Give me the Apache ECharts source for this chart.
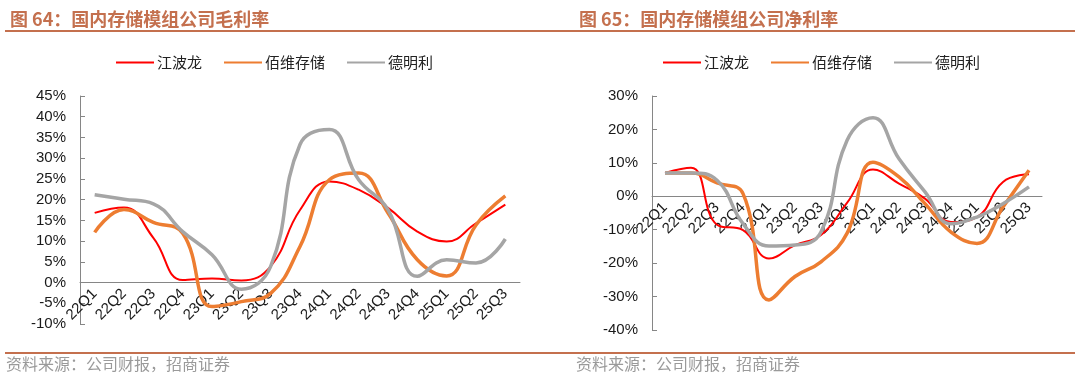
<!DOCTYPE html>
<html>
<head>
<meta charset="utf-8">
<title>国内存储模组公司毛利率 / 净利率</title>
<script src="https://cdn.jsdelivr.net/npm/echarts@6/dist/echarts.min.js"></script>
<style>
    html, body { margin: 0; padding: 0; background: #fff; }
    #main { width: 1080px; height: 376px; }
</style>
</head>
<body>
<div id="main"></div>
<script>
// 季度
var quarters = ['22Q1','22Q2','22Q3','22Q4','23Q1','23Q2','23Q3','23Q4',
                '24Q1','24Q2','24Q3','24Q4','25Q1','25Q2','25Q3'];
var names = ['江波龙', '佰维存储', '德明利'];

// 图64 毛利率 (%)
var gross_jbl = [16.8, 18.1, 10.8, 0.6, 1.0, 0.5, 3.9, 17.5, 24.4, 22.4, 18.0, 12.3, 9.9, 14.3, 18.8];
var gross_bw  = [12.1, 17.6, 14.5, 11.9, -5.8, -4.6, -2.6, 8.7, 24.8, 26.4, 16.8, 5.5, 1.6, 13.9, 20.9];
var gross_dml = [21.2, 20.1, 19.0, 12.3, 6.7, -1.6, 3.9, 33.3, 36.9, 24.8, 17.6, 1.5, 5.5, 4.7, 10.5];

// 图65 净利率 (%)
var net_jbl = [7.0, 8.5, -8.5, -10.1, -18.6, -14.6, -11.6, -2.0, 8.0, 3.8, -0.7, -7.7, -6.2, 4.3, 6.6];
var net_bw  = [7.0, 7.0, 4.0, 0.8, -31.0, -24.0, -19.6, -11.1, 10.2, 5.8, -2.2, -10.7, -14.1, -3.2, 7.8];
var net_dml = [7.0, 7.0, 4.8, -8.2, -14.9, -14.6, -10.7, 16.7, 23.5, 11.2, 1.3, -8.2, -6.2, -2.2, 2.8];

var colors = ['#ff0000', '#ed7d31', '#a5a5a5'];
var widths = [2, 3.5, 3.5];
var brown = '#c4704e';

function makeSeries(idx, datas){
    var list = [];
    for (var i = 0; i < datas.length; i++) {
        list.push({
            name: names[i],
            type: 'line',
            xAxisIndex: idx,
            yAxisIndex: idx,
            smooth: 0.45,
            symbol: 'none',
            lineStyle: { color: colors[i], width: widths[i] },
            itemStyle: { color: colors[i] },
            data: datas[i]
        });
    }
    return list;
}

// 0轴位置：offset 为负数，把整条 x 轴（线、刻度、标签）上移到 0%
function makeXAxis(idx, offset){
    return {
        type: 'category',
        gridIndex: idx,
        data: quarters,
        boundaryGap: true,
        offset: offset,
        axisLine: { onZero: false, lineStyle: { color: '#868686', width: 1 } },
        axisTick: { inside: true, length: 5, lineStyle: { color: '#868686' } },
        axisLabel: {
            rotate: 45,
            interval: 0,
            margin: 9,
            fontSize: 15,
            fontFamily: 'Liberation Sans',
            color: '#1a1a1a'
        }
    };
}

function makeYAxis(idx, min, max, step){
    return {
        type: 'value',
        gridIndex: idx,
        min: min,
        max: max,
        interval: step,
        splitLine: { show: false },
        axisLine: { show: true, lineStyle: { color: '#868686', width: 1 } },
        axisTick: { show: true, inside: true, length: 5, lineStyle: { color: '#868686' } },
        axisLabel: {
            formatter: '{value}%',
            margin: 14,
            fontSize: 15,
            fontFamily: 'Liberation Sans',
            color: '#1a1a1a'
        }
    };
}

function makeLegend(left){
    return {
        left: left,
        top: 50,
        itemWidth: 38,
        itemHeight: 14,
        itemGap: 21,
        itemStyle: { opacity: 0 },
        data: names,
        textStyle: { fontSize: 15, color: '#222', fontFamily: 'Noto Sans CJK SC', padding: [0, 0, 0, -2] }
    };
}

function initEchart(){
    var myChart = echarts.init(document.getElementById('main'));
    var titleStyle = { fontSize: 18, fontWeight: 'bold', color: brown, fontFamily: 'Noto Sans CJK SC' };
    var option = {
        animation: false,
        backgroundColor: '#fff',
        title: [
            { text: '图 64：国内存储模组公司毛利率', left: 5, top: 5, textStyle: titleStyle },
            { text: '图 65：国内存储模组公司净利率', left: 574, top: 5, textStyle: titleStyle }
        ],
        legend: [ makeLegend(110), makeLegend(657) ],
        grid: [
            { left: 80, top: 96, width: 440, height: 228 },
            { left: 652, top: 96, width: 390, height: 234 }
        ],
        xAxis: [ makeXAxis(0, -228 * 10 / 55), makeXAxis(1, -234 * 40 / 70) ],
        yAxis: [ makeYAxis(0, -10, 45, 5), makeYAxis(1, -40, 30, 10) ],
        graphic: [
            { type: 'line', shape: { x1: 5, y1: 31, x2: 1075, y2: 31 }, style: { stroke: brown, lineWidth: 2 } },
            { type: 'line', shape: { x1: 5, y1: 353, x2: 1075, y2: 353 }, style: { stroke: brown, lineWidth: 2 } },
            { type: 'text', left: 6, top: 356, style: { text: '资料来源：公司财报，招商证券', font: '16px "Noto Sans CJK SC"', fill: '#9a9a9a' } },
            { type: 'text', left: 576, top: 356, style: { text: '资料来源：公司财报，招商证券', font: '16px "Noto Sans CJK SC"', fill: '#9a9a9a' } }
        ],
        series: makeSeries(0, [gross_jbl, gross_bw, gross_dml])
                    .concat(makeSeries(1, [net_jbl, net_bw, net_dml]))
    };
    myChart.setOption(option);
}

initEchart();
</script>
</body>
</html>
